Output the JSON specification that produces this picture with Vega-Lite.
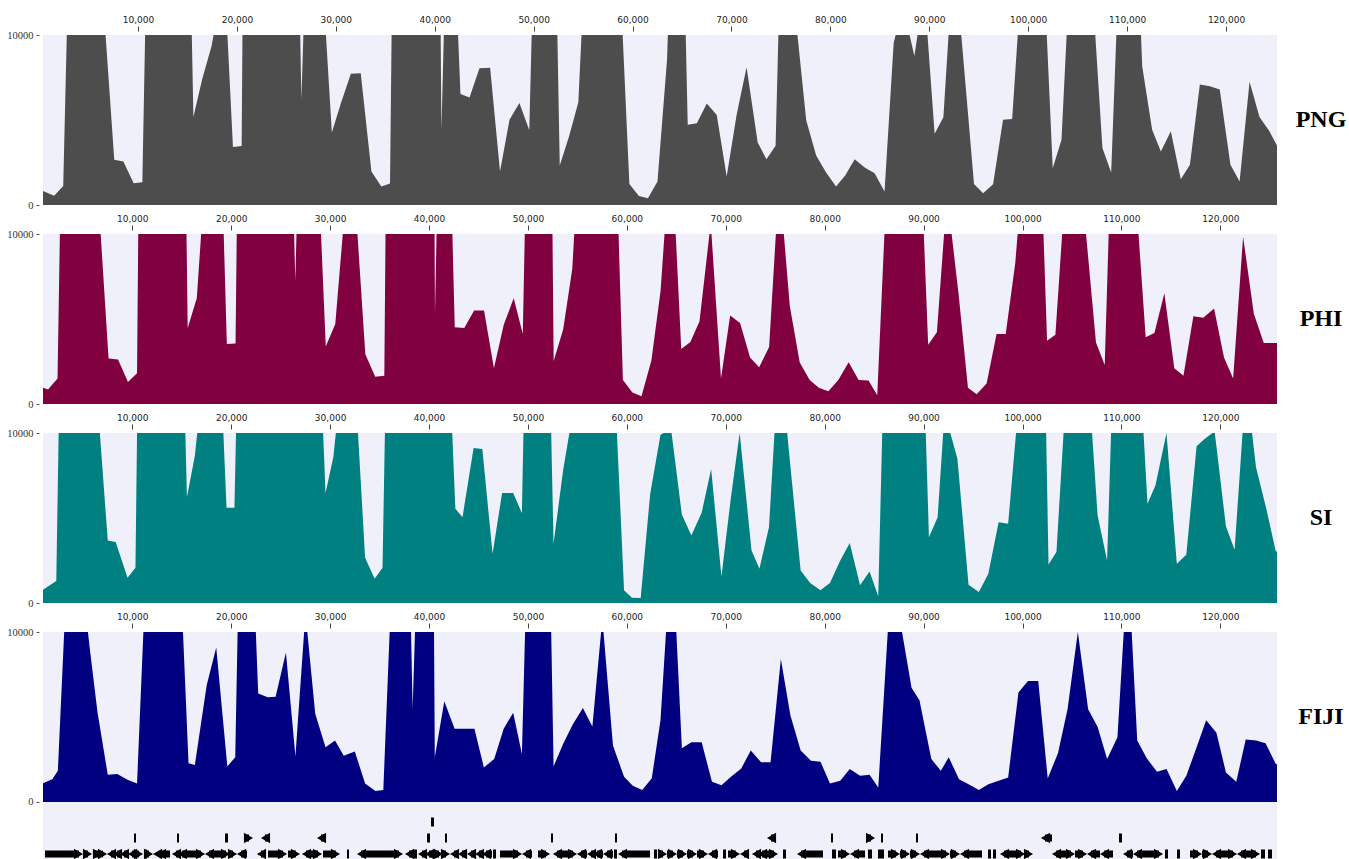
{
  "$schema": "https://vega.github.io/schema/vega-lite/v6.json",
  "background": "white",
  "padding": {"top": 15, "left": 6, "right": 0, "bottom": 0},
  "bounds": "flush",
  "spacing": 29,
  "config": {
    "view": {"stroke": null, "fill": "#f0f0fa"},
    "text": {"font": "Liberation Serif", "fontSize": 24, "fontWeight": "bold", "color": "#000", "align": "center", "baseline": "middle", "dx": 44}
  },
  "datasets": {
    "png": [
      {"pos":395,"value":827},{"pos":1520,"value":551},{"pos":2440,"value":1122},{"pos":2800,"value":10000},{"pos":6720,"value":10000},{"pos":7600,"value":2657},{"pos":8520,"value":2559},{"pos":9560,"value":1280},{"pos":10440,"value":1339},{"pos":10720,"value":10000},{"pos":15440,"value":10000},{"pos":15600,"value":5177},{"pos":16480,"value":7382},{"pos":17440,"value":9350},{"pos":17640,"value":10000},{"pos":19040,"value":10000},{"pos":19600,"value":3405},{"pos":20480,"value":3465},{"pos":20560,"value":10000},{"pos":26400,"value":10000},{"pos":26520,"value":6200},{"pos":26720,"value":10000},{"pos":29000,"value":10000},{"pos":29600,"value":4272},{"pos":30520,"value":6004},{"pos":31520,"value":7717},{"pos":32520,"value":7756},{"pos":33600,"value":1969},{"pos":34600,"value":1083},{"pos":35480,"value":1260},{"pos":35640,"value":10000},{"pos":40600,"value":10000},{"pos":40680,"value":4429},{"pos":40920,"value":10000},{"pos":42360,"value":10000},{"pos":42600,"value":6535},{"pos":43520,"value":6319},{"pos":44520,"value":8051},{"pos":45600,"value":8071},{"pos":46600,"value":1969},{"pos":47560,"value":5020},{"pos":48560,"value":6004},{"pos":49560,"value":4390},{"pos":49800,"value":10000},{"pos":52400,"value":10000},{"pos":52640,"value":2323},{"pos":53600,"value":4075},{"pos":54520,"value":6043},{"pos":54840,"value":10000},{"pos":59000,"value":10000},{"pos":59680,"value":1240},{"pos":60640,"value":531},{"pos":61560,"value":394},{"pos":62520,"value":1378},{"pos":63488,"value":8563},{"pos":63568,"value":10000},{"pos":65377,"value":10000},{"pos":65578,"value":4724},{"pos":66503,"value":4803},{"pos":67508,"value":5965},{"pos":68513,"value":5295},{"pos":69518,"value":1673},{"pos":70523,"value":5315},{"pos":71528,"value":8110},{"pos":72653,"value":3681},{"pos":73538,"value":2697},{"pos":74462,"value":3484},{"pos":74744,"value":10000},{"pos":76673,"value":10000},{"pos":77558,"value":4980},{"pos":78563,"value":2913},{"pos":79568,"value":1909},{"pos":80573,"value":1083},{"pos":81497,"value":1732},{"pos":82462,"value":2697},{"pos":83467,"value":2205},{"pos":84472,"value":1870},{"pos":85477,"value":787},{"pos":86402,"value":9547},{"pos":86603,"value":10000},{"pos":88010,"value":10000},{"pos":88492,"value":8760},{"pos":88814,"value":10000},{"pos":89819,"value":10000},{"pos":90542,"value":4193},{"pos":91427,"value":5157},{"pos":91949,"value":10000},{"pos":93236,"value":10000},{"pos":94522,"value":1240},{"pos":95447,"value":689},{"pos":96452,"value":1220},{"pos":97457,"value":5020},{"pos":98381,"value":5059},{"pos":98944,"value":10000},{"pos":101879,"value":10000},{"pos":102482,"value":2165},{"pos":103366,"value":3839},{"pos":103889,"value":10000},{"pos":106783,"value":10000},{"pos":107507,"value":3346},{"pos":108391,"value":1909},{"pos":108914,"value":10000},{"pos":111406,"value":10000},{"pos":111527,"value":8169},{"pos":112532,"value":4429},{"pos":113416,"value":3150},{"pos":114421,"value":4331},{"pos":115426,"value":1516},{"pos":116351,"value":2362},{"pos":117356,"value":7087},{"pos":118361,"value":6988},{"pos":119366,"value":6791},{"pos":120451,"value":2362},{"pos":121376,"value":1378},{"pos":122381,"value":7244},{"pos":123386,"value":5177},{"pos":124391,"value":4331},{"pos":125156,"value":3500}
    ],
    "phi": [
      {"pos":972,"value":950},{"pos":1480,"value":851},{"pos":2440,"value":1505},{"pos":2680,"value":10000},{"pos":6800,"value":10000},{"pos":7600,"value":2673},{"pos":8560,"value":2614},{"pos":9560,"value":1287},{"pos":10480,"value":1802},{"pos":10600,"value":10000},{"pos":15480,"value":10000},{"pos":15600,"value":4475},{"pos":16520,"value":6218},{"pos":16960,"value":10000},{"pos":19240,"value":10000},{"pos":19560,"value":3525},{"pos":20440,"value":3564},{"pos":20560,"value":10000},{"pos":26360,"value":10000},{"pos":26480,"value":7248},{"pos":26600,"value":10000},{"pos":29080,"value":10000},{"pos":29560,"value":3386},{"pos":30520,"value":4713},{"pos":31280,"value":10000},{"pos":32760,"value":10000},{"pos":33560,"value":2931},{"pos":34560,"value":1604},{"pos":35480,"value":1663},{"pos":35600,"value":10000},{"pos":40560,"value":10000},{"pos":40600,"value":5267},{"pos":40760,"value":10000},{"pos":42360,"value":10000},{"pos":42600,"value":4515},{"pos":43560,"value":4475},{"pos":44560,"value":5505},{"pos":45560,"value":5505},{"pos":46560,"value":2099},{"pos":47560,"value":4673},{"pos":48560,"value":6218},{"pos":49480,"value":4119},{"pos":49680,"value":10000},{"pos":52480,"value":10000},{"pos":52600,"value":2535},{"pos":53560,"value":4376},{"pos":54480,"value":7941},{"pos":54680,"value":10000},{"pos":59160,"value":10000},{"pos":59600,"value":1406},{"pos":60560,"value":673},{"pos":61480,"value":455},{"pos":62480,"value":2554},{"pos":63407,"value":6653},{"pos":63809,"value":10000},{"pos":64935,"value":10000},{"pos":65498,"value":3228},{"pos":66422,"value":3644},{"pos":67347,"value":4871},{"pos":68352,"value":10000},{"pos":68553,"value":10000},{"pos":69518,"value":1505},{"pos":70442,"value":5208},{"pos":71447,"value":4772},{"pos":72452,"value":2733},{"pos":73377,"value":2158},{"pos":74382,"value":3347},{"pos":75065,"value":10000},{"pos":75869,"value":10000},{"pos":76472,"value":5762},{"pos":77477,"value":2436},{"pos":78482,"value":1406},{"pos":79407,"value":950},{"pos":80372,"value":752},{"pos":81377,"value":1406},{"pos":82422,"value":2455},{"pos":83427,"value":1406},{"pos":84432,"value":1386},{"pos":85316,"value":515},{"pos":86040,"value":10000},{"pos":90020,"value":10000},{"pos":90462,"value":3485},{"pos":91347,"value":4218},{"pos":92070,"value":10000},{"pos":92834,"value":10000},{"pos":93558,"value":6356},{"pos":94482,"value":950},{"pos":95367,"value":574},{"pos":96372,"value":1208},{"pos":97377,"value":4119},{"pos":98301,"value":4119},{"pos":99266,"value":8277},{"pos":99507,"value":10000},{"pos":102120,"value":10000},{"pos":102482,"value":3723},{"pos":103326,"value":4079},{"pos":104009,"value":10000},{"pos":106421,"value":10000},{"pos":107426,"value":3624},{"pos":108311,"value":2297},{"pos":108713,"value":10000},{"pos":111728,"value":10000},{"pos":112452,"value":3921},{"pos":113336,"value":4178},{"pos":114341,"value":6515},{"pos":115346,"value":2099},{"pos":116271,"value":1663},{"pos":117276,"value":5168},{"pos":118281,"value":5069},{"pos":119366,"value":5624},{"pos":120371,"value":2733},{"pos":121296,"value":1505},{"pos":122301,"value":9842},{"pos":123386,"value":5307},{"pos":124391,"value":3584},{"pos":125729,"value":3584}
    ],
    "si": [
      {"pos":972,"value":783},{"pos":2314,"value":1292},{"pos":2554,"value":10000},{"pos":6718,"value":10000},{"pos":7518,"value":3679},{"pos":8319,"value":3581},{"pos":9520,"value":1487},{"pos":10320,"value":2074},{"pos":10480,"value":10000},{"pos":15364,"value":10000},{"pos":15524,"value":6223},{"pos":16325,"value":8669},{"pos":16565,"value":10000},{"pos":19207,"value":10000},{"pos":19527,"value":5597},{"pos":20327,"value":5597},{"pos":20487,"value":10000},{"pos":29294,"value":10000},{"pos":29534,"value":6458},{"pos":30335,"value":8611},{"pos":30575,"value":10000},{"pos":32817,"value":10000},{"pos":33537,"value":2661},{"pos":34498,"value":1429},{"pos":35298,"value":2074},{"pos":35538,"value":10000},{"pos":42343,"value":10000},{"pos":42663,"value":5538},{"pos":43384,"value":5049},{"pos":44505,"value":9119},{"pos":45386,"value":9061},{"pos":46426,"value":2896},{"pos":47387,"value":6477},{"pos":48508,"value":6477},{"pos":49388,"value":5284},{"pos":49548,"value":10000},{"pos":52350,"value":10000},{"pos":52590,"value":3483},{"pos":53551,"value":7789},{"pos":54191,"value":10000},{"pos":58995,"value":10000},{"pos":59716,"value":744},{"pos":60516,"value":313},{"pos":61397,"value":294},{"pos":62358,"value":6419},{"pos":63398,"value":9902},{"pos":63719,"value":10000},{"pos":64519,"value":10000},{"pos":65560,"value":5205},{"pos":66521,"value":3973},{"pos":67562,"value":5303},{"pos":68522,"value":7886},{"pos":69563,"value":1566},{"pos":70524,"value":6223},{"pos":71404,"value":10000},{"pos":72605,"value":3092},{"pos":73406,"value":2016},{"pos":74367,"value":4462},{"pos":74927,"value":10000},{"pos":76208,"value":10000},{"pos":77569,"value":1918},{"pos":78530,"value":1174},{"pos":79571,"value":744},{"pos":80532,"value":1174},{"pos":81573,"value":2505},{"pos":82534,"value":3523},{"pos":83574,"value":1037},{"pos":84535,"value":1859},{"pos":85416,"value":391},{"pos":85817,"value":10000},{"pos":90220,"value":10000},{"pos":90540,"value":3875},{"pos":91421,"value":5049},{"pos":91981,"value":10000},{"pos":92700,"value":10000},{"pos":93422,"value":8474},{"pos":94543,"value":1076},{"pos":95584,"value":646},{"pos":96545,"value":1722},{"pos":97585,"value":4755},{"pos":98546,"value":4658},{"pos":99347,"value":10000},{"pos":102389,"value":10000},{"pos":102629,"value":2270},{"pos":103430,"value":2994},{"pos":104150,"value":10000},{"pos":107032,"value":10000},{"pos":107592,"value":5147},{"pos":108553,"value":2505},{"pos":108953,"value":10000},{"pos":112236,"value":10000},{"pos":112636,"value":5832},{"pos":113436,"value":6908},{"pos":114557,"value":10000},{"pos":115598,"value":2309},{"pos":116559,"value":2838},{"pos":117600,"value":9217},{"pos":118401,"value":9648},{"pos":119202,"value":10000},{"pos":119442,"value":10000},{"pos":120563,"value":4521},{"pos":121444,"value":3131},{"pos":122245,"value":10000},{"pos":123205,"value":10000},{"pos":123606,"value":7984},{"pos":124647,"value":5538},{"pos":125607,"value":3033},{"pos":125729,"value":3033}
    ],
    "fiji": [
      {"pos":972,"value":1107},{"pos":1914,"value":1344},{"pos":2474,"value":1838},{"pos":3115,"value":10000},{"pos":5517,"value":10000},{"pos":5677,"value":9150},{"pos":6478,"value":5296},{"pos":7518,"value":1601},{"pos":8479,"value":1640},{"pos":9520,"value":1304},{"pos":10480,"value":1087},{"pos":11121,"value":10000},{"pos":15124,"value":10000},{"pos":15685,"value":2273},{"pos":16325,"value":2174},{"pos":17526,"value":6877},{"pos":18486,"value":9091},{"pos":19607,"value":2095},{"pos":20407,"value":2628},{"pos":20647,"value":10000},{"pos":22488,"value":10000},{"pos":22729,"value":6383},{"pos":23689,"value":6166},{"pos":24490,"value":6186},{"pos":25531,"value":8794},{"pos":26492,"value":2688},{"pos":27373,"value":10000},{"pos":27693,"value":10000},{"pos":28494,"value":5198},{"pos":29535,"value":3221},{"pos":30495,"value":3617},{"pos":31376,"value":2727},{"pos":32497,"value":2964},{"pos":33537,"value":1087},{"pos":34578,"value":652},{"pos":35378,"value":711},{"pos":36019,"value":10000},{"pos":38181,"value":10000},{"pos":38341,"value":5500},{"pos":38581,"value":10000},{"pos":40503,"value":10000},{"pos":40583,"value":2628},{"pos":41544,"value":5929},{"pos":42584,"value":4308},{"pos":44586,"value":4308},{"pos":45547,"value":2036},{"pos":46588,"value":2530},{"pos":47548,"value":4308},{"pos":48509,"value":5257},{"pos":49390,"value":2826},{"pos":49710,"value":10000},{"pos":52352,"value":10000},{"pos":52592,"value":2095},{"pos":53553,"value":3419},{"pos":54514,"value":4545},{"pos":55554,"value":5534},{"pos":56515,"value":4447},{"pos":57396,"value":10000},{"pos":57636,"value":10000},{"pos":58596,"value":3320},{"pos":59717,"value":1482},{"pos":60598,"value":949},{"pos":61559,"value":711},{"pos":62520,"value":1403},{"pos":63400,"value":4802},{"pos":63960,"value":10000},{"pos":65001,"value":10000},{"pos":65562,"value":3162},{"pos":66522,"value":3518},{"pos":67563,"value":3518},{"pos":68604,"value":1186},{"pos":69565,"value":988},{"pos":70525,"value":1482},{"pos":71566,"value":1976},{"pos":72527,"value":3024},{"pos":73568,"value":2332},{"pos":74528,"value":2332},{"pos":75569,"value":8419},{"pos":76530,"value":5099},{"pos":77571,"value":3024},{"pos":78612,"value":2431},{"pos":79573,"value":2372},{"pos":80534,"value":1087},{"pos":81575,"value":1245},{"pos":82535,"value":1937},{"pos":83576,"value":1542},{"pos":84537,"value":1601},{"pos":85417,"value":850},{"pos":86378,"value":10000},{"pos":87819,"value":10000},{"pos":88780,"value":6719},{"pos":89581,"value":5988},{"pos":90782,"value":2530},{"pos":91742,"value":1838},{"pos":92543,"value":2628},{"pos":93584,"value":1344},{"pos":94544,"value":1047},{"pos":95585,"value":711},{"pos":96546,"value":1047},{"pos":97587,"value":1245},{"pos":98548,"value":1443},{"pos":99589,"value":6443},{"pos":100549,"value":7115},{"pos":101590,"value":7115},{"pos":102551,"value":1383},{"pos":103592,"value":2885},{"pos":104553,"value":5455},{"pos":105594,"value":10000},{"pos":106635,"value":5455},{"pos":107596,"value":4407},{"pos":108556,"value":2530},{"pos":109597,"value":3814},{"pos":110237,"value":10000},{"pos":111038,"value":10000},{"pos":111599,"value":3617},{"pos":112560,"value":2569},{"pos":113601,"value":1779},{"pos":114562,"value":1937},{"pos":115602,"value":652},{"pos":116563,"value":1542},{"pos":117604,"value":3221},{"pos":118565,"value":4802},{"pos":119606,"value":4071},{"pos":120566,"value":1739},{"pos":121607,"value":1186},{"pos":122568,"value":3676},{"pos":123609,"value":3617},{"pos":124570,"value":3458},{"pos":125611,"value":2233},{"pos":125729,"value":2233}
    ],
    "genes": [
      {"start":1175,"end":5016,"strand":"+","lane":3},{"start":5016,"end":5926,"strand":"+","lane":3},{"start":6027,"end":6937,"strand":"+","lane":3},{"start":6937,"end":7443,"strand":"+","lane":3},{"start":7443,"end":8049,"strand":"-","lane":3},{"start":8049,"end":8757,"strand":"-","lane":3},{"start":8757,"end":9566,"strand":"-","lane":3},{"start":9566,"end":10274,"strand":"-","lane":3},{"start":10476,"end":11082,"strand":"+","lane":3},{"start":11183,"end":11487,"strand":".","lane":3},{"start":11487,"end":12093,"strand":"+","lane":3},{"start":12093,"end":12498,"strand":"-","lane":3},{"start":12498,"end":13812,"strand":"-","lane":3},{"start":14014,"end":14621,"strand":"-","lane":3},{"start":14621,"end":15329,"strand":"-","lane":3},{"start":15329,"end":17351,"strand":"+","lane":3},{"start":17351,"end":18159,"strand":"-","lane":3},{"start":18159,"end":19878,"strand":"+","lane":3},{"start":19878,"end":20586,"strand":"+","lane":3},{"start":20586,"end":21597,"strand":"-","lane":3},{"start":22608,"end":23214,"strand":"-","lane":3},{"start":23720,"end":25641,"strand":"+","lane":3},{"start":25742,"end":26955,"strand":"+","lane":3},{"start":27157,"end":27764,"strand":"-","lane":3},{"start":27764,"end":29179,"strand":"+","lane":3},{"start":29280,"end":30999,"strand":"+","lane":3},{"start":31707,"end":31909,"strand":".","lane":3},{"start":32718,"end":35043,"strand":"-","lane":3},{"start":35043,"end":37368,"strand":"+","lane":3},{"start":37571,"end":38278,"strand":"-","lane":3},{"start":38480,"end":38784,"strand":".","lane":3},{"start":38885,"end":39491,"strand":"-","lane":3},{"start":39593,"end":40199,"strand":"-","lane":3},{"start":40401,"end":41412,"strand":"+","lane":3},{"start":41412,"end":42120,"strand":"+","lane":3},{"start":42120,"end":42929,"strand":"-","lane":3},{"start":42929,"end":43839,"strand":"-","lane":3},{"start":43839,"end":44648,"strand":"-","lane":3},{"start":44648,"end":45355,"strand":"-","lane":3},{"start":45355,"end":46366,"strand":"-","lane":3},{"start":46467,"end":46771,"strand":".","lane":3},{"start":47175,"end":49399,"strand":"+","lane":3},{"start":49399,"end":50410,"strand":"-","lane":3},{"start":51017,"end":52230,"strand":"+","lane":3},{"start":52533,"end":53443,"strand":"-","lane":3},{"start":53443,"end":54960,"strand":"+","lane":3},{"start":54960,"end":55971,"strand":"-","lane":3},{"start":55971,"end":56577,"strand":"-","lane":3},{"start":56577,"end":57588,"strand":"-","lane":3},{"start":57588,"end":58599,"strand":"-","lane":3},{"start":58700,"end":59004,"strand":".","lane":3},{"start":59105,"end":62340,"strand":"-","lane":3},{"start":62744,"end":63048,"strand":".","lane":3},{"start":63351,"end":64059,"strand":"+","lane":3},{"start":64059,"end":65070,"strand":"+","lane":3},{"start":65070,"end":66081,"strand":"+","lane":3},{"start":66081,"end":67092,"strand":"+","lane":3},{"start":67092,"end":68204,"strand":"+","lane":3},{"start":68204,"end":69215,"strand":"-","lane":3},{"start":69720,"end":70024,"strand":".","lane":3},{"start":70226,"end":71439,"strand":"+","lane":3},{"start":71439,"end":72147,"strand":"-","lane":3},{"start":72652,"end":73259,"strand":"-","lane":3},{"start":73259,"end":73967,"strand":"-","lane":3},{"start":74169,"end":75281,"strand":"+","lane":3},{"start":75786,"end":76090,"strand":".","lane":3},{"start":77202,"end":79830,"strand":"-","lane":3},{"start":80740,"end":81145,"strand":".","lane":3},{"start":81347,"end":82560,"strand":"+","lane":3},{"start":82560,"end":84077,"strand":"-","lane":3},{"start":84380,"end":84784,"strand":".","lane":3},{"start":85391,"end":85997,"strand":".","lane":3},{"start":86402,"end":87615,"strand":"+","lane":3},{"start":87615,"end":88626,"strand":"+","lane":3},{"start":88626,"end":89637,"strand":"+","lane":3},{"start":89637,"end":90951,"strand":"-","lane":3},{"start":90951,"end":92670,"strand":"+","lane":3},{"start":92670,"end":93681,"strand":"+","lane":3},{"start":93681,"end":95905,"strand":"-","lane":3},{"start":96512,"end":96815,"strand":".","lane":3},{"start":97017,"end":97321,"strand":".","lane":3},{"start":97725,"end":99242,"strand":"-","lane":3},{"start":99242,"end":100253,"strand":"+","lane":3},{"start":100253,"end":101061,"strand":"+","lane":3},{"start":102982,"end":103993,"strand":"-","lane":3},{"start":103993,"end":105308,"strand":"+","lane":3},{"start":105308,"end":106521,"strand":"+","lane":3},{"start":106521,"end":107835,"strand":"-","lane":3},{"start":107835,"end":109149,"strand":"-","lane":3},{"start":110160,"end":111171,"strand":"-","lane":3},{"start":111171,"end":112182,"strand":"-","lane":3},{"start":112182,"end":114204,"strand":"+","lane":3},{"start":114407,"end":114710,"strand":".","lane":3},{"start":115620,"end":115923,"strand":".","lane":3},{"start":116934,"end":118147,"strand":"+","lane":3},{"start":118147,"end":119158,"strand":"+","lane":3},{"start":119158,"end":120776,"strand":"-","lane":3},{"start":120776,"end":121686,"strand":"+","lane":3},{"start":121686,"end":123000,"strand":"-","lane":3},{"start":123000,"end":124011,"strand":"+","lane":3},{"start":124112,"end":124517,"strand":".","lane":3},{"start":124820,"end":125224,"strand":".","lane":3},
      {"start":10172,"end":10375,"strand":".","lane":2},{"start":14520,"end":14722,"strand":".","lane":2},{"start":19373,"end":19676,"strand":".","lane":2},{"start":21597,"end":22203,"strand":"+","lane":2},{"start":23012,"end":23619,"strand":"-","lane":2},{"start":28674,"end":29483,"strand":"-","lane":2},{"start":39795,"end":40098,"strand":".","lane":2},{"start":41615,"end":41817,"strand":".","lane":2},{"start":52331,"end":52533,"strand":".","lane":2},{"start":58802,"end":59004,"strand":".","lane":2},{"start":74169,"end":74775,"strand":"-","lane":2},{"start":80639,"end":80841,"strand":".","lane":2},{"start":84380,"end":85088,"strand":"+","lane":2},{"start":85694,"end":85896,"strand":".","lane":2},{"start":89233,"end":89435,"strand":".","lane":2},{"start":101870,"end":102982,"strand":"-","lane":2},{"start":109756,"end":110059,"strand":".","lane":2},
      {"start":40199,"end":40502,"strand":".","lane":1}
    ]
  },
  "vconcat": [
    {
      "width": 1234, "height": 170,
      "layer": [
        {
          "data": {"name": "png"},
          "mark": {"type": "area", "color": "#4d4d4d", "interpolate": "linear"},
          "encoding": {
            "x": {"field": "pos", "type": "quantitative", "scale": {"domain": [395, 125156], "nice": false, "zero": false},
                  "axis": {"orient": "top", "values": [10000,20000,30000,40000,50000,60000,70000,80000,90000,100000,110000,120000], "format": ",d", "labelFont": "DejaVu Sans", "labelFontSize": 9, "labelColor": "#222", "tickColor": "#444", "tickSize": 5, "offset": 4, "labelPadding": 2, "labelFlush": false, "labelOverlap": false, "domain": false, "grid": false, "title": null}},
            "y": {"field": "value", "type": "quantitative", "scale": {"domain": [0, 10000], "nice": false},
                  "axis": {"values": [0, 10000], "format": "d", "labelFont": "Liberation Serif", "labelFontSize": 10.5, "labelColor": "#333", "tickColor": "#555", "tickSize": 3, "offset": 4, "labelPadding": 3, "domain": false, "grid": false, "title": null}},
            "y2": {"datum": 0}
          }
        },
        {
          "data": {"values": [{"label": "PNG"}]},
          "mark": {"type": "text"},
          "encoding": {
            "text": {"field": "label"},
            "x": {"datum": 125156},
            "y": {"datum": 5000}
          }
        }
      ]
    },
    {
      "width": 1234, "height": 170,
      "layer": [
        {
          "data": {"name": "phi"},
          "mark": {"type": "area", "color": "#800040", "interpolate": "linear"},
          "encoding": {
            "x": {"field": "pos", "type": "quantitative", "scale": {"domain": [972, 125729], "nice": false, "zero": false},
                  "axis": {"orient": "top", "values": [10000,20000,30000,40000,50000,60000,70000,80000,90000,100000,110000,120000], "format": ",d", "labelFont": "DejaVu Sans", "labelFontSize": 9, "labelColor": "#222", "tickColor": "#444", "tickSize": 5, "offset": 4, "labelPadding": 2, "labelFlush": false, "labelOverlap": false, "domain": false, "grid": false, "title": null}},
            "y": {"field": "value", "type": "quantitative", "scale": {"domain": [0, 10000], "nice": false},
                  "axis": {"values": [0, 10000], "format": "d", "labelFont": "Liberation Serif", "labelFontSize": 10.5, "labelColor": "#333", "tickColor": "#555", "tickSize": 3, "offset": 4, "labelPadding": 3, "domain": false, "grid": false, "title": null}},
            "y2": {"datum": 0}
          }
        },
        {
          "data": {"values": [{"label": "PHI"}]},
          "mark": {"type": "text"},
          "encoding": {
            "text": {"field": "label"},
            "x": {"datum": 125729},
            "y": {"datum": 5000}
          }
        }
      ]
    },
    {
      "width": 1234, "height": 170,
      "layer": [
        {
          "data": {"name": "si"},
          "mark": {"type": "area", "color": "#008080", "interpolate": "linear"},
          "encoding": {
            "x": {"field": "pos", "type": "quantitative", "scale": {"domain": [972, 125729], "nice": false, "zero": false},
                  "axis": {"orient": "top", "values": [10000,20000,30000,40000,50000,60000,70000,80000,90000,100000,110000,120000], "format": ",d", "labelFont": "DejaVu Sans", "labelFontSize": 9, "labelColor": "#222", "tickColor": "#444", "tickSize": 5, "offset": 4, "labelPadding": 2, "labelFlush": false, "labelOverlap": false, "domain": false, "grid": false, "title": null}},
            "y": {"field": "value", "type": "quantitative", "scale": {"domain": [0, 10000], "nice": false},
                  "axis": {"values": [0, 10000], "format": "d", "labelFont": "Liberation Serif", "labelFontSize": 10.5, "labelColor": "#333", "tickColor": "#555", "tickSize": 3, "offset": 4, "labelPadding": 3, "domain": false, "grid": false, "title": null}},
            "y2": {"datum": 0}
          }
        },
        {
          "data": {"values": [{"label": "SI"}]},
          "mark": {"type": "text"},
          "encoding": {
            "text": {"field": "label"},
            "x": {"datum": 125729},
            "y": {"datum": 5000}
          }
        }
      ]
    },
    {
      "width": 1234, "height": 227,
      "resolve": {"scale": {"y": "independent"}},
      "layer": [
        {
          "data": {"name": "fiji"},
          "layer": [
            {
              "mark": {"type": "area", "color": "#000080", "interpolate": "linear"},
              "encoding": {
                "x": {"field": "pos", "type": "quantitative", "scale": {"domain": [972, 125729], "nice": false, "zero": false},
                      "axis": {"orient": "top", "values": [10000,20000,30000,40000,50000,60000,70000,80000,90000,100000,110000,120000], "format": ",d", "labelFont": "DejaVu Sans", "labelFontSize": 9, "labelColor": "#222", "tickColor": "#444", "tickSize": 5, "offset": 4, "labelPadding": 2, "labelFlush": false, "labelOverlap": false, "domain": false, "grid": false, "title": null}},
                "y": {"field": "value", "type": "quantitative", "scale": {"domain": [-3353, 10000], "nice": false, "zero": false},
                      "axis": {"values": [0, 10000], "format": "d", "labelFont": "Liberation Serif", "labelFontSize": 10.5, "labelColor": "#333", "tickColor": "#555", "tickSize": 3, "offset": 4, "labelPadding": 3, "domain": false, "grid": false, "title": null}},
                "y2": {"datum": 0}
              }
            },
            {
              "data": {"values": [{"label": "FIJI"}]},
              "mark": {"type": "text"},
              "encoding": {
                "text": {"field": "label"},
                "x": {"datum": 125729},
                "y": {"datum": 5000}
              }
            }
          ]
        },
        {
          "data": {"name": "genes"},
          "transform": [{"filter": "datum.strand == '+'"}],
          "layer": [
            {
              "mark": {"type": "rule", "color": "#000", "strokeWidth": 7, "strokeCap": "butt", "x2Offset": -4, "clip": true},
              "encoding": {
                "x": {"field": "start", "type": "quantitative"},
                "x2": {"field": "end"},
                "y": {"field": "lane", "type": "quantitative", "scale": {"domain": [-10.875, 3.3125], "reverse": true, "nice": false, "zero": false}, "axis": null}
              }
            },
            {
              "mark": {"type": "point", "shape": "triangle-right", "filled": true, "color": "#000", "opacity": 1, "size": 110, "xOffset": -4.5, "clip": true},
              "encoding": {
                "x": {"field": "end", "type": "quantitative"},
                "y": {"field": "lane", "type": "quantitative", "scale": {"domain": [-10.875, 3.3125], "reverse": true, "nice": false, "zero": false}, "axis": null}
              }
            }
          ]
        },
        {
          "data": {"name": "genes"},
          "transform": [{"filter": "datum.strand == '-'"}],
          "layer": [
            {
              "mark": {"type": "rule", "color": "#000", "strokeWidth": 7, "strokeCap": "butt", "xOffset": 4, "clip": true},
              "encoding": {
                "x": {"field": "start", "type": "quantitative"},
                "x2": {"field": "end"},
                "y": {"field": "lane", "type": "quantitative", "scale": {"domain": [-10.875, 3.3125], "reverse": true, "nice": false, "zero": false}, "axis": null}
              }
            },
            {
              "mark": {"type": "point", "shape": "triangle-left", "filled": true, "color": "#000", "opacity": 1, "size": 110, "xOffset": 4.5, "clip": true},
              "encoding": {
                "x": {"field": "start", "type": "quantitative"},
                "y": {"field": "lane", "type": "quantitative", "scale": {"domain": [-10.875, 3.3125], "reverse": true, "nice": false, "zero": false}, "axis": null}
              }
            }
          ]
        },
        {
          "data": {"name": "genes"},
          "transform": [{"filter": "datum.strand == '.'"}],
          "mark": {"type": "rule", "color": "#000", "strokeWidth": 9, "strokeCap": "butt", "clip": true},
          "encoding": {
            "x": {"field": "start", "type": "quantitative"},
            "x2": {"field": "end"},
            "y": {"field": "lane", "type": "quantitative", "scale": {"domain": [-10.875, 3.3125], "reverse": true, "nice": false, "zero": false}, "axis": null}
          }
        }
      ]
    }
  ]
}
